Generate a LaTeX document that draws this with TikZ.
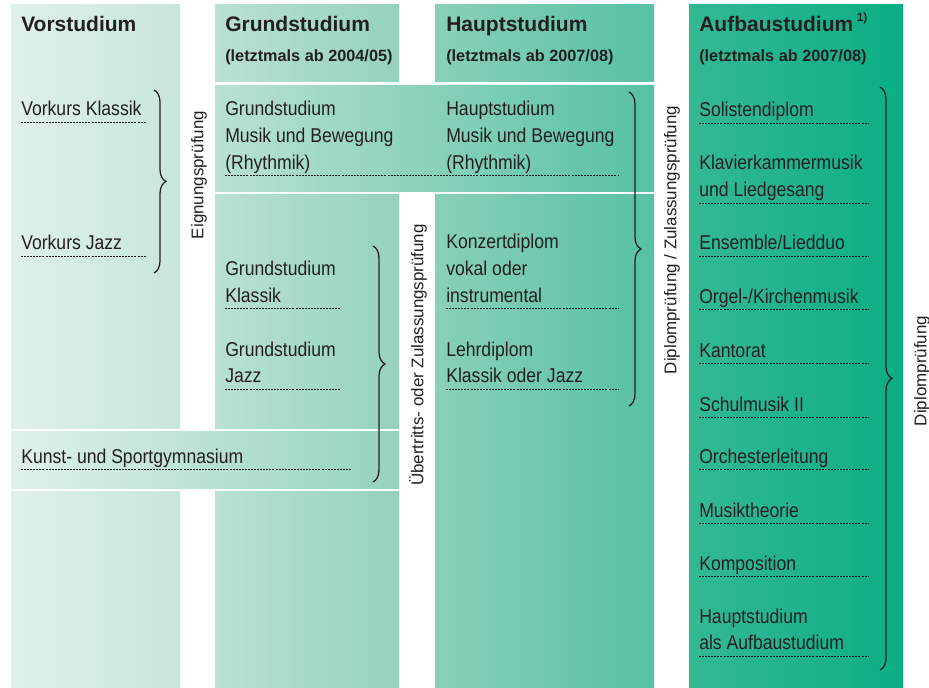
\documentclass[tikz,border=0pt]{standalone}
\usepackage{fontspec}
\setmainfont{Liberation Sans}
\newfontfamily\narrowfont{Liberation Sans}[FakeStretch=0.88]
\usetikzlibrary{decorations.pathreplacing}
\definecolor{ink}{HTML}{231F20}
\definecolor{mintA}{HTML}{E0F1EA}
\definecolor{mintB}{HTML}{C7E6D9}
\definecolor{mintC}{HTML}{BAE1D2}
\definecolor{mintD}{HTML}{94D2BE}
\definecolor{mintE}{HTML}{8AD0B9}
\definecolor{mintF}{HTML}{56C1A1}
\definecolor{mintG}{HTML}{34B894}
\definecolor{mintH}{HTML}{0AAE85}
\newcommand{\linesof}[1]{\begin{tabular}[t]{@{}l@{}}#1\end{tabular}}

\tikzset{
  entry/.style={anchor=base west, inner sep=0pt, text=ink,
    font=\narrowfont\fontsize{15}{19.9}\selectfont},
  colhead/.style={anchor=base west, inner sep=0pt, text=ink,
    font=\bfseries\fontsize{15.75}{18}\selectfont},
  colnote/.style={anchor=base west, inner sep=0pt, text=ink,
    font=\bfseries\fontsize{12.2}{14}\selectfont},
  exam/.style={rotate=90, inner sep=0pt, text=ink,
    font=\fontsize{12.7}{15}\selectfont},
  dots/.style={draw=ink, line width=0.55pt, dash pattern=on 1.5pt off 0.8pt},
  bracket/.style={draw=ink, line width=0.95pt, decorate,
    decoration={brace, amplitude=9pt}},
}

\begin{document}
\begin{tikzpicture}[x=0.75pt, y=-0.75pt]
\useasboundingbox (0,0) rectangle (929,688);

% column backgrounds
\shade[left color=mintA, right color=mintB] (11,5) rectangle (180,428);
\shade[left color=mintA, right color=mintB] (11,491) rectangle (180,688);
\shade[left color=mintC, right color=mintD] (215,5) rectangle (399,82);
\shade[left color=mintC, right color=mintD] (215,195) rectangle (399,428);
\shade[left color=mintC, right color=mintD] (215,491) rectangle (399,688);
\shade[left color=mintE, right color=mintF] (435,5) rectangle (654,82);
\shade[left color=mintE, right color=mintF] (435,195) rectangle (654,688);
\shade[left color=mintG, right color=mintH] (689,5) rectangle (903,688);
% bands across columns
\shade[left color=mintC, right color=mintF] (215,86) rectangle (654,192);
\shade[left color=mintA, right color=mintD] (11,431) rectangle (399,488);

% headers
\node[colhead] (vorst) at (21,32) {Vorstudium};
\node[colhead] (grundst) at (225,32) {Grundstudium};
\node[colhead] (hauptst) at (446,32) {Hauptstudium};
\node[colhead] (aufbaust) at (699,32)
  {Aufbaustudium\,\raisebox{0.5em}{\fontsize{9}{10}\selectfont 1)}};
\node[colnote] (grundnote) at (225,62) {(letztmals ab 2004/05)};
\node[colnote] (hauptnote) at (446,62) {(letztmals ab 2007/08)};
\node[colnote] (aufbaunote) at (699,62) {(letztmals ab 2007/08)};

% Vorstudium
\node[entry] (vkklassik) at (21,116) {Vorkurs Klassik};
\node[entry] (vkjazz) at (21,250) {Vorkurs Jazz};
\draw[dots] (21,122) -- (146,122);
\draw[dots] (21,256) -- (146,256);
\node[entry] (kunstgym) at (21,463) {Kunst- und Sportgymnasium};
\draw[dots] (21,469) -- (352,469);

% Grundstudium
\node[entry] (gsrhythmik) at (225,116)
  {\linesof{Grundstudium\\Musik und Bewegung\\(Rhythmik)}};
\node[entry] (gsklassik) at (225,276) {\linesof{Grundstudium\\Klassik}};
\node[entry] (gsjazz) at (225,356) {\linesof{Grundstudium\\Jazz}};
\draw[dots] (225,175) -- (618,175);
\draw[dots] (225,308) -- (341,308);
\draw[dots] (225,389) -- (341,389);

% Hauptstudium
\node[entry] (hsrhythmik) at (446,116)
  {\linesof{Hauptstudium\\Musik und Bewegung\\(Rhythmik)}};
\node[entry] (konzert) at (446,249)
  {\linesof{Konzertdiplom\\vokal oder\\instrumental}};
\node[entry] (lehr) at (446,356) {\linesof{Lehrdiplom\\Klassik oder Jazz}};
\draw[dots] (446,308) -- (618,308);
\draw[dots] (446,389) -- (618,389);

% Aufbaustudium
\foreach \nm/\yb/\yl/\txt in {
    solist/117/123/{Solistendiplom},
    klavier/170/203/{\linesof{Klavierkammermusik\\und Liedgesang}},
    ensemble/250/256/{Ensemble/Liedduo},
    orgel/303/309/{Orgel-/Kirchenmusik},
    kantorat/357/363/{Kantorat},
    schulmusik/411/417/{Schulmusik II},
    orchester/463/469/{Orchesterleitung},
    theorie/517/523/{Musiktheorie},
    kompo/570/576/{Komposition},
    hsaufbau/623/656/{\linesof{Hauptstudium\\als Aufbaustudium}}} {
  \node[entry] (\nm) at (699,\yb) {\txt};
  \draw[dots] (699,\yl) -- (868,\yl);
}

% braces and exams
\coordinate (vkt) at (154,90);
\coordinate (vkb) at (154,273);
\coordinate (gst) at (373,246);
\coordinate (gsb) at (373,482);
\coordinate (hst) at (629,92);
\coordinate (hsb) at (629,406);
\coordinate (abt) at (880,87);
\coordinate (abb) at (880,670);
\draw[bracket] (vkt) -- (vkb);
\draw[bracket] (gst) -- (gsb);
\draw[bracket] (hst) -- (hsb);
\draw[bracket] (abt) -- (abb);

\node[exam] (eignung) at (199,175) {Eignungsprüfung};
\node[exam] (uebertritt) at (418,355) {Übertritts- oder Zulassungsprüfung};
\node[exam] (diplzul) at (672,240) {Diplomprüfung / Zulassungsprüfung};
\node[exam] (diplom) at (922,371) {Diplomprüfung};
\end{tikzpicture}
\end{document}
